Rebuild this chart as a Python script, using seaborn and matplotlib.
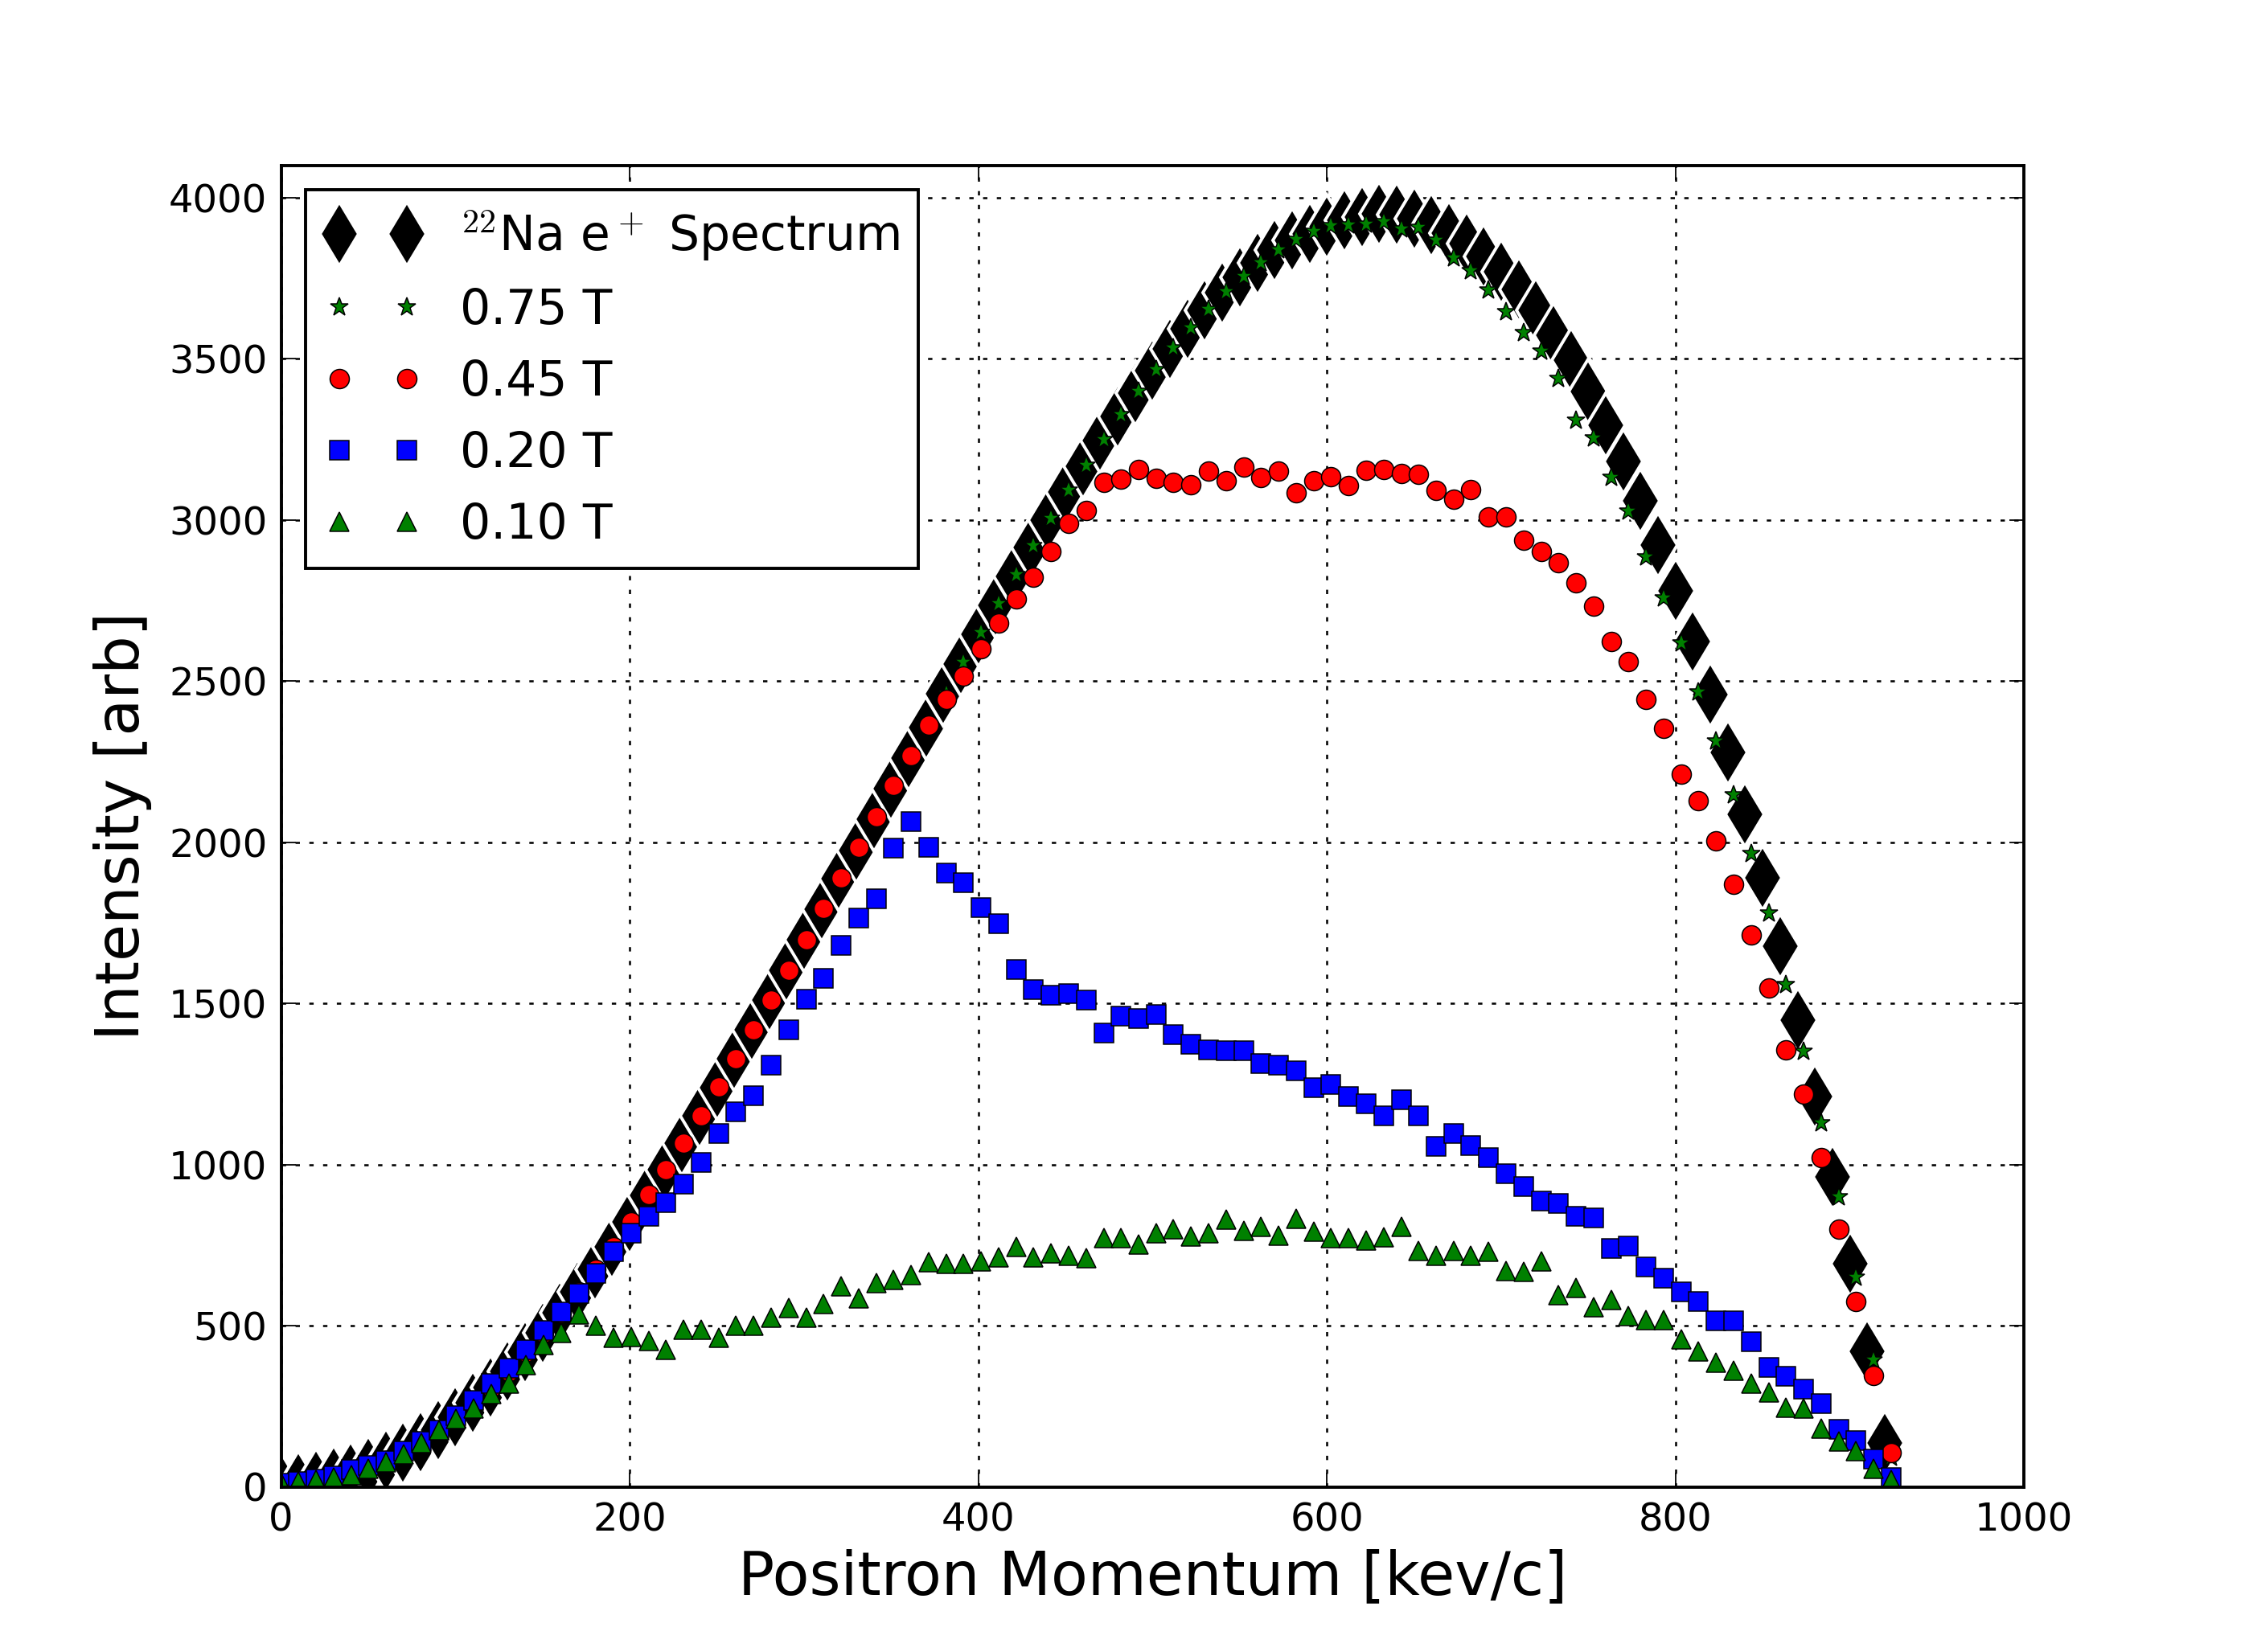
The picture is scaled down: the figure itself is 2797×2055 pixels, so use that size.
import matplotlib
matplotlib.use("Agg")
import matplotlib.pyplot as plt
import seaborn as sns
import pandas as pd

# ---------------- data ----------------
momentum_spectrum = list(range(0, 930, 10))
momentum_field = [0.0, 10.0, 20.1, 30.1, 40.2, 50.2, 60.2, 70.3, 80.3, 90.4,
                  100.4, 110.4, 120.5, 130.5, 140.6, 150.6, 160.6, 170.7, 180.7, 190.8,
                  200.8, 210.8, 220.9, 230.9, 241.0, 251.0, 261.0, 271.1, 281.1, 291.2,
                  301.2, 311.2, 321.3, 331.3, 341.4, 351.4, 361.4, 371.5, 381.5, 391.6,
                  401.6, 411.6, 421.7, 431.7, 441.8, 451.8, 461.8, 471.9, 481.9, 492.0,
                  502.0, 512.0, 522.1, 532.1, 542.2, 552.2, 562.2, 572.3, 582.3, 592.4,
                  602.4, 612.4, 622.5, 632.5, 642.6, 652.6, 662.6, 672.7, 682.7, 692.8,
                  702.8, 712.8, 722.9, 732.9, 743.0, 753.0, 763.0, 773.1, 783.1, 793.2,
                  803.2, 813.2, 823.3, 833.3, 843.4, 853.4, 863.4, 873.5, 883.5, 893.6,
                  903.6, 913.6, 923.7]

spectrum_na22 = [3, 10, 18, 28, 42, 58, 80, 106, 138, 175,
                 216, 261, 307, 359, 418, 478, 540, 604, 674, 745,
                 821, 903, 984, 1065, 1150, 1237, 1328, 1418, 1510, 1603,
                 1698, 1792, 1887, 1975, 2070, 2165, 2260, 2355, 2460, 2553,
                 2645, 2735, 2825, 2915, 3000, 3085, 3165, 3245, 3320, 3393,
                 3462, 3530, 3592, 3650, 3704, 3752, 3796, 3836, 3866, 3888,
                 3910, 3928, 3940, 3948, 3946, 3935, 3915, 3890, 3858, 3818,
                 3770, 3714, 3649, 3573, 3494, 3398, 3294, 3180, 3058, 2922,
                 2779, 2622, 2457, 2279, 2086, 1890, 1676, 1448, 1212, 961,
                 693, 421, 135]

field_075 = [3, 10, 18, 28, 42, 58, 80, 106, 138, 175,
             216, 261, 307, 359, 418, 478, 540, 604, 674, 745,
             821, 903, 984, 1065, 1150, 1237, 1328, 1418, 1510, 1603,
             1698, 1792, 1887, 1975, 2070, 2165, 2260, 2355, 2460, 2558,
             2650, 2739, 2830, 2919, 3005, 3090, 3169, 3249, 3325, 3397,
             3466, 3533, 3595, 3653, 3707, 3755, 3798, 3837, 3870, 3894,
             3911, 3915, 3916, 3923, 3902, 3906, 3866, 3812, 3773, 3713,
             3644, 3580, 3523, 3437, 3308, 3254, 3130, 3026, 2883, 2758,
             2618, 2464, 2314, 2147, 1963, 1780, 1558, 1351, 1129, 900,
             650, 393, 90]

field_045 = [3, 10, 18, 28, 42, 58, 80, 106, 138, 175,
             216, 261, 307, 359, 418, 478, 540, 604, 674, 745,
             821, 906, 985, 1067, 1151, 1240, 1329, 1418, 1510, 1603,
             1698, 1795, 1890, 1984, 2079, 2175, 2267, 2362, 2444, 2516,
             2599, 2680, 2754, 2822, 2902, 2988, 3030, 3116, 3127, 3156,
             3128, 3116, 3108, 3150, 3122, 3164, 3130, 3150, 3084, 3122,
             3133, 3105, 3154, 3156, 3144, 3140, 3091, 3065, 3094, 3008,
             3008, 2936, 2901, 2868, 2805, 2732, 2622, 2560, 2443, 2353,
             2211, 2128, 2004, 1868, 1713, 1548, 1355, 1218, 1022, 800,
             574, 346, 107]

field_020 = [10, 17, 24, 34, 53, 67, 82, 110, 141, 177,
             220, 268, 320, 368, 425, 484, 542, 601, 661, 730,
             787, 840, 881, 940, 1006, 1097, 1163, 1213, 1307, 1418,
             1513, 1578, 1680, 1765, 1825, 1981, 2063, 1984, 1905, 1873,
             1796, 1746, 1606, 1542, 1526, 1529, 1510, 1409, 1460, 1452,
             1466, 1404, 1372, 1355, 1352, 1352, 1313, 1309, 1290, 1237,
             1248, 1212, 1188, 1150, 1202, 1150, 1055, 1096, 1058, 1022,
             972, 932, 886, 879, 839, 835, 740, 747, 683, 646,
             606, 576, 514, 514, 450, 371, 343, 303, 257, 178,
             143, 85, 28]

field_010 = [10, 17, 20, 29, 36, 55, 77, 101, 137, 177,
             210, 244, 287, 320, 377, 439, 477, 534, 501, 463,
             465, 453, 425, 487, 487, 463, 501, 501, 525, 554,
             526, 567, 622, 586, 633, 641, 657, 697, 692, 692,
             700, 713, 745, 713, 724, 716, 710, 773, 772, 753,
             787, 800, 776, 787, 829, 795, 808, 780, 832, 792,
             772, 772, 765, 775, 807, 732, 717, 732, 717, 729,
             669, 667, 700, 596, 617, 557, 579, 529, 517, 517,
             457, 421, 386, 360, 321, 293, 245, 243, 181, 140,
             111, 57, 21]

series_labels = [r'$^{22}$Na e$^+$ Spectrum', '0.75 T', '0.45 T', '0.20 T', '0.10 T']
x_label = 'Positron Momentum [kev/c]'
y_label = 'Intensity [arb]'
x_ticks = [0, 200, 400, 600, 800, 1000]
y_ticks = [0, 500, 1000, 1500, 2000, 2500, 3000, 3500, 4000]

# ---------------- style ----------------
sns.set_style("white")
plt.rcParams.update({
    "font.family": ["DejaVu Sans"],
    "mathtext.fontset": "cm",
    "text.color": "black",
    "axes.labelcolor": "black",
    "axes.edgecolor": "black",
    "axes.linewidth": 1.3,
    "xtick.direction": "in",
    "ytick.direction": "in",
    "xtick.top": True,
    "ytick.right": True,
    "xtick.bottom": True,
    "ytick.left": True,
    "xtick.major.size": 6,
    "ytick.major.size": 6,
    "xtick.major.width": 0.6,
    "ytick.major.width": 0.6,
    "xtick.color": "black",
    "ytick.color": "black",
    "xtick.labelsize": 16,
    "ytick.labelsize": 16,
    "lines.scale_dashes": False,
})

DPI = 216
fig = plt.figure(figsize=(2797 / DPI, 2055 / DPI), dpi=DPI)
ax = fig.add_subplot(111)
fig.subplots_adjust(left=0.125, right=0.9, bottom=0.1, top=0.9)

# (x, y, marker, size, face colour, edge colour, edge width)
specs = [
    (momentum_spectrum, spectrum_na22, 'd', 19, 'k', 'white', 1.3),
    (momentum_field, field_075, '*', 8, 'g', 'k', 0.5),
    (momentum_field, field_045, 'o', 8, 'r', 'k', 0.5),
    (momentum_field, field_020, 's', 8, 'b', 'k', 0.5),
    (momentum_field, field_010, '^', 8, 'g', 'k', 0.5),
]

for (xs, ys, mk, ms, col, ec, ew), lab in zip(specs, series_labels):
    df = pd.DataFrame({"p": xs, "I": ys})
    sns.lineplot(data=df, x="p", y="I", ax=ax, estimator=None, sort=False,
                 errorbar=None, linestyle="none", marker=mk, markersize=ms,
                 color=col, markerfacecolor=col, markeredgecolor=ec,
                 markeredgewidth=ew, label=lab, legend=False)

ax.set_xlim(0, 1000)
ax.set_ylim(0, 4100)
ax.set_xticks(x_ticks)
ax.set_yticks(y_ticks)
ax.tick_params(axis='x', pad=6)
ax.tick_params(axis='y', pad=5.7)
ax.grid(True, color='k', linestyle=(0, (1.8, 3.9)), linewidth=0.85)
ax.set_axisbelow(True)

ax.set_xlabel(x_label, fontsize=25, labelpad=4)
ax.set_ylabel(y_label, fontsize=25, labelpad=7)

handles, labels = ax.get_legend_handles_labels()
leg = ax.legend(handles, labels, loc='upper left', numpoints=2, fontsize=20,
                frameon=True, fancybox=False, framealpha=1, edgecolor='k',
                borderpad=0.4, labelspacing=0.5, handlelength=2.0,
                handletextpad=0.8, borderaxespad=0.5)
leg.get_frame().set_linewidth(1.3)

fig.savefig("out.png", dpi=DPI, facecolor="white")
